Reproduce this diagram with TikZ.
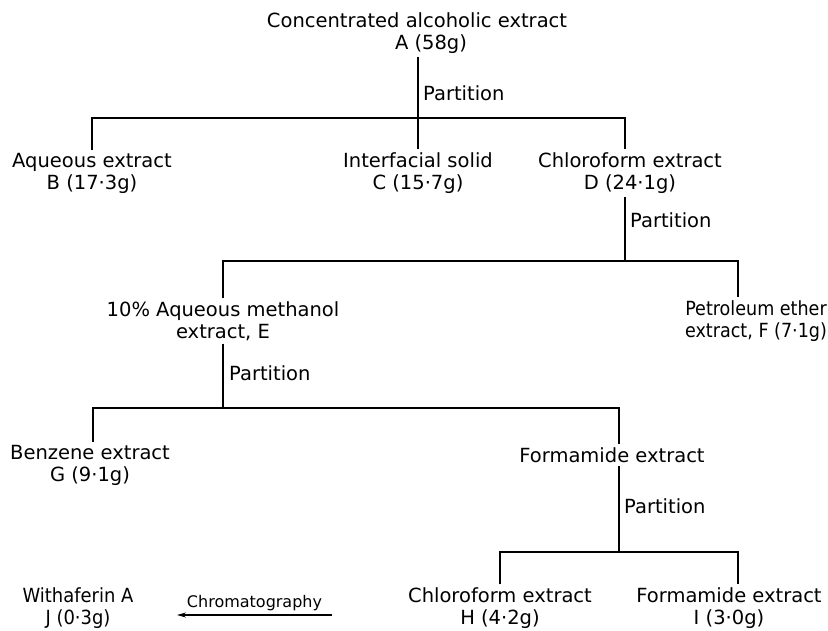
\documentclass[tikz,border=0pt]{standalone}
\usepackage{fontspec}
\setmainfont{DejaVu Sans}
\newfontfamily\narrowf[FakeStretch=0.9]{DejaVu Sans}
\newfontfamily\narrowj[FakeStretch=0.92]{DejaVu Sans}
\usetikzlibrary{arrows.meta,calc}
\newcommand{\mainf}{\fontsize{19.5}{22}\selectfont}
\newcommand{\smallf}{\fontsize{16}{18}\selectfont}
\begin{document}
\begin{tikzpicture}[x=1pt,y=-1pt,
  every node/.style={font=\mainf, align=center, inner sep=3pt},
  ln/.style={line width=1.2pt},
  lbl/.style={anchor=west, inner sep=0pt}]
\useasboundingbox (0,0) rectangle (828,631);

% nodes
\node (A) at (417,33) {Concentrated alcoholic extract\\\hspace*{28pt}A (58g)};
\node (B) at (92,173) {Aqueous extract\\B (17·3g)};
\node (C) at (418,173) {Interfacial solid\\C (15·7g)};
\node (D) at (630,173) {Chloroform extract\\D (24·1g)};
\node (E) at (223,321) {10\% Aqueous methanol\\extract, E};
\node[font=\narrowf\mainf] (F) at (756,321) {Petroleum ether\\extract, F (7·1g)};
\node (G) at (90,465) {Benzene extract\\G (9·1g)};
\node (K) at (612,455) {Formamide extract};
\node (H) at (500,608) {Chloroform extract\\H (4·2g)};
\node (I) at (729,608) {Formamide extract\\I (3·0g)};
\node[font=\narrowj\mainf] (J) at (78,608) {Withaferin A\\J (0·3g)};

% bar coordinates
\coordinate (b1) at (418,118);
\coordinate (b2) at (625,261);
\coordinate (b3) at (223,408);
\coordinate (b4) at (619,552);
\coordinate (c1) at (332,615);
\coordinate (c2) at (177,615);

% level 1
\draw[ln] (A.south -| b1) -- (b1);
\node[lbl] at (423,93) {Partition};
\draw[ln] (B.north) -- (B.north |- b1) -- ([xshift=-5pt]D.north |- b1) -- ([xshift=-5pt]D.north);
\draw[ln] (C.north) -- (C.north |- b1);

% level 2
\draw[ln] (D.south -| b2) -- (b2);
\node[lbl] at (630,220) {Partition};
\draw[ln] (E.north) -- (E.north |- b2) -- ([xshift=-18pt]F.north |- b2) -- ([xshift=-18pt]F.north);

% level 3
\draw[ln] (E.south) -- (b3);
\node[lbl] at (229,373) {Partition};
\draw[ln] ([xshift=3pt]G.north) -- ([xshift=3pt]G.north |- b3) -- ([xshift=7pt]K.north |- b3) -- ([xshift=7pt]K.north);

% level 4
\draw[ln] ([xshift=7pt]K.south) -- (b4);
\node[lbl] at (624,506) {Partition};
\draw[ln] (H.north) -- (H.north |- b4) -- ([xshift=9pt]I.north |- b4) -- ([xshift=9pt]I.north);

% chromatography
\draw[ln, -{Stealth[length=9pt,width=5pt]}] (c1) -- node[above=1pt, font=\smallf] {Chromatography} (c2);
\end{tikzpicture}
\end{document}
